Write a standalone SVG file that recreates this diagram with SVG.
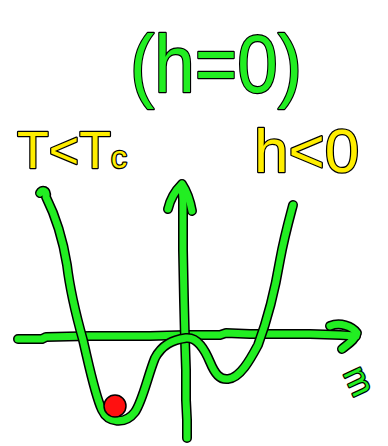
<svg xmlns="http://www.w3.org/2000/svg" width="388" height="446" viewBox="0 0 388 446">
<style>
.o{fill:none;stroke:#000;stroke-width:10;stroke-linecap:round;stroke-linejoin:round}
.g{fill:none;stroke:#22EE22;stroke-width:7;stroke-linecap:round;stroke-linejoin:round}
.tg{font-family:"Liberation Sans",Arial,sans-serif;fill:#22EE22;stroke:#000;stroke-width:2.5;paint-order:stroke;stroke-linejoin:round}
.ty{font-family:"Liberation Sans",Arial,sans-serif;fill:#FFEE00;stroke:#000;stroke-width:2.5;paint-order:stroke;stroke-linejoin:round}
</style>
<defs>
<path id="curve" d="M 40,193 C 42,189 47,190 46,197 C 55,215 63,240 67,265 C 70,290 76,315 83,340 C 90,370 95,395 102,410 C 108,423 125,425 135,412 C 143,400 148,375 155,358 C 162,345 172,340 186,338 C 198,337 205,350 210,362 C 215,374 220,380 228,379 C 240,378 250,360 258,345 C 268,318 275,290 280,260 C 284,238 289,220 293,205"/>
<path id="haxis" d="M 18,339 L 42,339 L 46,337 L 90,336 L 150,336 L 185,335 L 220,335 L 226,333 L 250,334 L 310,334 L 340,335 L 356,336"/>
<path id="harrow" d="M 330,326 C 340,322 352,326 357,333 C 355,340 348,344 342,349"/>
<path id="vaxis" d="M 187,438 L 187,420 L 186,400 L 186,370 L 185,340 L 184,300 L 183,250 L 183,200 L 182,186"/>
<path id="varrow" d="M 168,209 C 170,200 176,190 182,184 C 186,190 190,200 192,211"/>
</defs>
<g id="connectors">
<g id="m-axis"><use href="#haxis" class="o"/><use href="#harrow" class="o"/><use href="#haxis" class="g"/><use href="#harrow" class="g"/></g>
<g id="f-axis"><use href="#vaxis" class="o"/><use href="#varrow" class="o"/><use href="#vaxis" class="g"/><use href="#varrow" class="g"/></g>
</g>
<g id="potential"><use href="#curve" class="o"/><use href="#curve" class="g"/></g>
<g id="ball"><circle cx="115" cy="406" r="11" fill="#FF1010" stroke="#000" stroke-width="1.5"/></g>
<g id="title"><text class="tg" x="130" y="92" font-size="82" textLength="172" lengthAdjust="spacingAndGlyphs">(h=0)</text></g>
<g id="label-t"><text class="ty" x="17" y="168" font-size="52">T&lt;T<tspan font-size="32">c</tspan></text></g>
<g id="label-h"><text class="ty" x="254" y="172" font-size="62">h&lt;0</text></g>
<g id="label-m"><text class="tg" font-size="34" text-anchor="middle" transform="translate(357,382) rotate(65)" y="9">m</text></g>
</svg>
